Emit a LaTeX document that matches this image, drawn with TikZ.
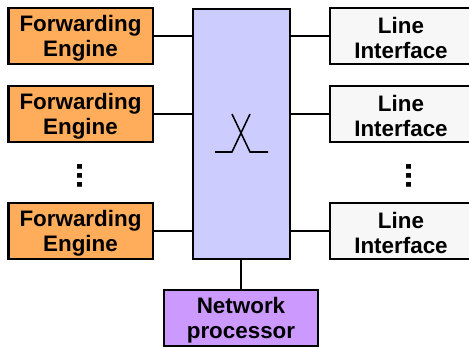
\documentclass[tikz,border=0pt]{standalone}
\usepackage{fontspec}
\setmainfont{Liberation Sans}
\newcommand{\twolines}[2]{\rule{0pt}{15.5pt}#1\\#2}
\tikzset{
	unit/.style = {draw = black, line width = 1.5pt, inner sep = 0pt, align = center, minimum height = 42pt, font = \fontsize{16.8}{18.75}\selectfont\bfseries},
	engine/.style = {unit, fill = engineorange, minimum width = 108pt},
	iface/.style = {unit, fill = ifacegray, minimum width = 106pt},
	link/.style = {line width = 1.15pt},
	vdots/.style = {inner sep = 0pt, font = \fontsize{25}{25}\selectfont\bfseries}
}
\definecolor{engineorange}{RGB}{255,173,91}
\definecolor{ifacegray}{RGB}{247,247,247}
\definecolor{switchblue}{RGB}{204,204,255}
\definecolor{procpurple}{RGB}{204,153,255}
\begin{document}
\begin{tikzpicture}[x = 0.75pt, y = -0.75pt]
	\useasboundingbox (0,0) rectangle (469,347);
	\node (switch) at (241.5,133.5) [draw = black, line width = 1.5pt, fill = switchblue, minimum width = 72.5pt, minimum height = 187.5pt, inner sep = 0pt] {};
	\node (fe1) at (80.5,36) [engine] {\twolines{Forwarding}{Engine}};
	\node (fe2) at (80.5,114) [engine] {\twolines{Forwarding}{Engine}};
	\node (fe3) at (80.5,231) [engine] {\twolines{Forwarding}{Engine}};
	\node (li1) at (401,36) [iface] {\twolines{Line}{Interface}};
	\node (li2) at (401,114) [iface] {\twolines{Line}{Interface}};
	\node (li3) at (401,231) [iface] {\twolines{Line}{Interface}};
	\node (np) at (241,318) [unit, fill = procpurple, minimum width = 115.5pt] {\twolines{Network}{processor}};
	\foreach \n in {1,2,3} {
		\draw [link] (fe\n.east) -- (fe\n.east -| switch.west);
		\draw [link] (li\n.west) -- (li\n.west -| switch.east);
	}
	\draw [link] (np.north) -- (np.north |- switch.south);
	\node (ldots) at (80.5,176) [vdots] {\rotatebox{90}{...}};
	\node (rdots) at (409,176) [vdots] {\rotatebox{90}{...}};
	% switch symbol
	\coordinate (sa) at (215,152);
	\coordinate (sb) at (232,152);
	\coordinate (sc) at (250,114);
	\coordinate (sd) at (232,114);
	\coordinate (se) at (250,152);
	\coordinate (sf) at (268,152);
	\draw [link] (sa) -- (sb) -- (sc);
	\draw [link] (sd) -- (se) -- (sf);
\end{tikzpicture}
\end{document}
